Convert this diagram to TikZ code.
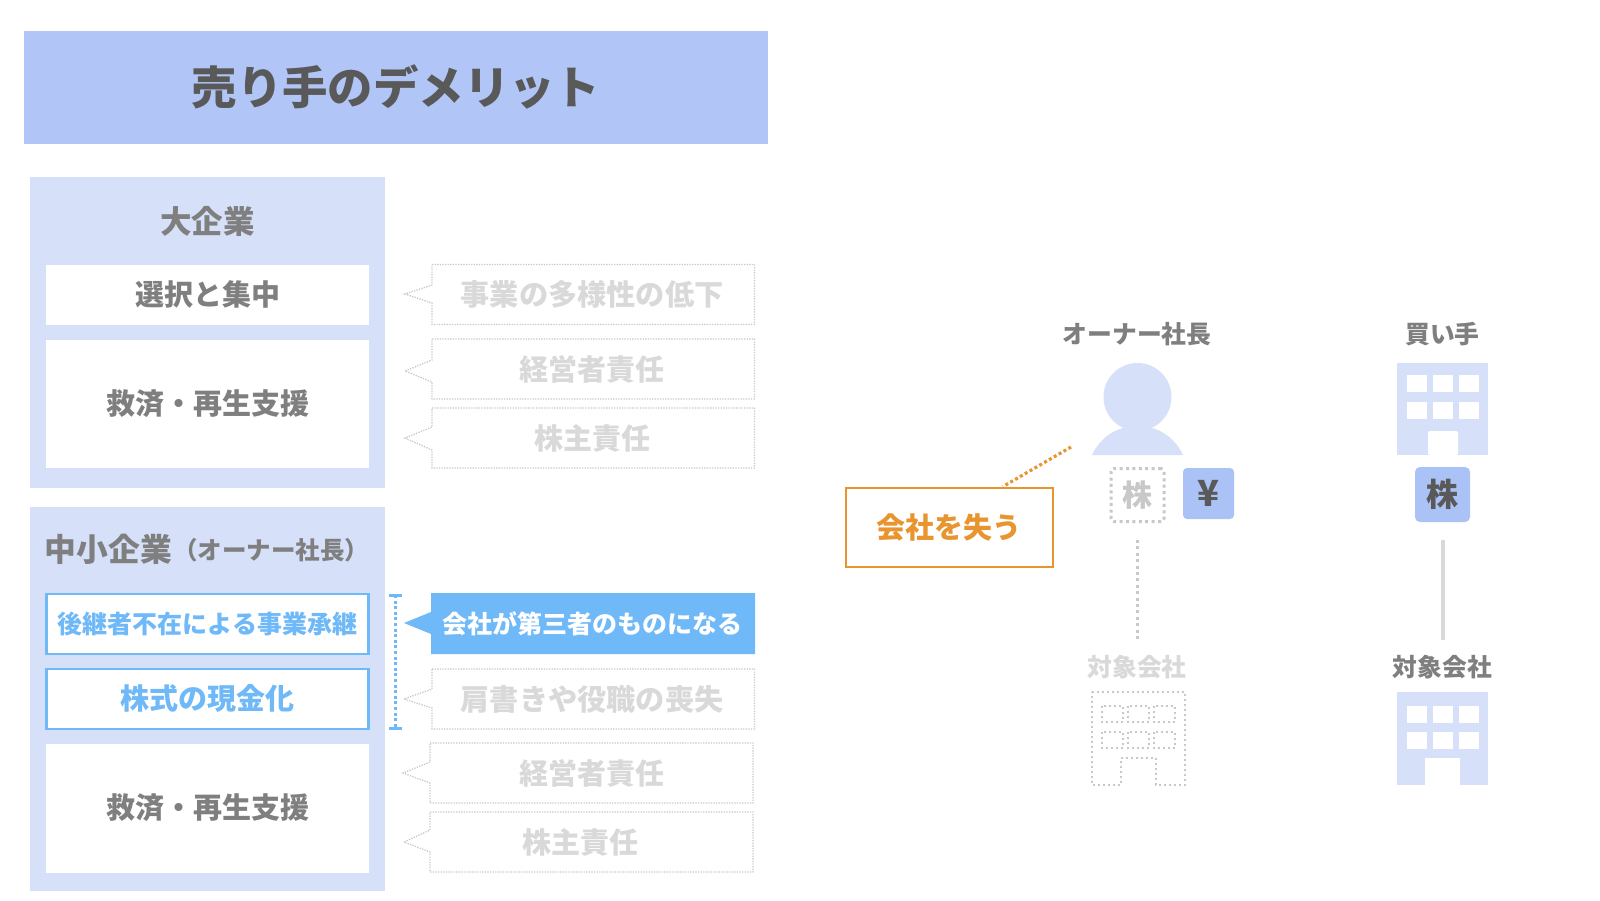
\documentclass[tikz,border=0pt]{standalone}
\usepackage{fontspec}
\setmainfont{Noto Sans CJK JP}
\definecolor{titlefill}{HTML}{B1C6F6}
\definecolor{panelfill}{HTML}{D6E0F9}
\definecolor{chipfill}{HTML}{ABC2F6}
\definecolor{midgrey}{HTML}{7F7F7F}
\definecolor{darkgrey}{HTML}{595959}
\definecolor{lightgrey}{HTML}{D9D9D9}
\definecolor{dotgrey}{HTML}{C8C8C8}
\definecolor{skyblue}{HTML}{6FB9F8}
\definecolor{orangetxt}{HTML}{E8952F}
\newcommand{\fsz}[1]{\fontsize{#1}{#1}\selectfont\bfseries}
\tikzset{
  x=1pt,y=-1pt,
  txt/.style={inner sep=0pt,text=midgrey},
  whitebox/.style={fill=white,draw=none,inner sep=0pt,text=midgrey},
  bluebox/.style={fill=white,draw=skyblue,line width=2.2pt,inner sep=0pt,text=skyblue},
  finedots/.style={draw=dotgrey,line width=1.3pt,dash pattern=on 1.3pt off 1.3pt},
  bigdots/.style={draw=dotgrey,line width=3pt,dash pattern=on 3pt off 3.4pt},
  icondots/.style={draw=dotgrey,line width=2pt,dash pattern=on 2pt off 3pt},
  bldg/.style={fill=panelfill,draw=none},
}
% xl xr yt yb tipx tipy n1 n2
\newcommand{\calloutpath}[9][finedots]{%
  \draw[#1] (#2,#4) -- (#3,#4) -- (#3,#5) -- (#2,#5) -- (#2,#9) -- (#6,#7) -- (#2,#8) -- cycle;}
\newcommand{\windowsat}[4][white]{%
  \foreach \wx in {1407,1433,1459}{
    \fill[#1] (\wx+#2,#3) rectangle ++(19.5,16.5);
    \fill[#1] (\wx+#2,#4) rectangle ++(19.5,16.5);}}
\begin{document}
\begin{tikzpicture}
\useasboundingbox (0,0) rectangle (1600,900);
\fill[white] (0,0) rectangle (1600,900);

% title
\node[fill=titlefill,minimum width=744pt,minimum height=113pt,inner sep=0pt,text=darkgrey,font=\fsz{45.4}] (title) at (396,87) {売り手のデメリット};

% panels
\node[fill=panelfill,minimum width=355pt,minimum height=311pt,inner sep=0pt] (panelA) at (207.5,332.5) {};
\node[fill=panelfill,minimum width=355pt,minimum height=384pt,inner sep=0pt] (panelB) at (207.5,699) {};

\node[txt,font=\fsz{31.5}] (large) at (207.5,221) {大企業};
\node[whitebox,minimum width=323pt,minimum height=60pt,font=\fsz{29}] (a1) at (207.5,294.5) {選択と集中};
\node[whitebox,minimum width=323pt,minimum height=128pt,font=\fsz{29}] (a2) at (207.5,404) {救済・再生支援};

\node[txt,font=\fsz{31.8},anchor=west] (small) at (44.5,549) {中小企業};
\node[txt,font=\fsz{24.5},anchor=west] (smallsub) at (173,550.5) {（オーナー社長）};
\node[bluebox,minimum width=322pt,minimum height=59.5pt,font=\fsz{25}] (b1) at (207.5,624) {後継者不在による事業承継};
\node[bluebox,minimum width=322pt,minimum height=59.5pt,font=\fsz{29}] (b2) at (207.5,699) {株式の現金化};
\node[whitebox,minimum width=323pt,minimum height=129pt,font=\fsz{29}] (b3) at (207.5,808) {救済・再生支援};

% callouts
\calloutpath{432}{754.5}{264.5}{324.5}{405}{294}{285}{303}
\calloutpath{432}{754.5}{339}{399}{405}{371}{360}{382}
\calloutpath{432}{754.5}{408}{468}{405}{438}{427}{450}
\fill[skyblue] (431,593) -- (755,593) -- (755,654) -- (431,654) -- (431,634) -- (404,623) -- (431,612) -- cycle;
\calloutpath{432}{754.5}{669}{729}{404}{699}{689}{708}
\calloutpath{430}{753}{743}{803}{403}{773}{762}{783}
\calloutpath{430}{753}{812}{872}{404}{842}{830}{852}

\node[txt,text=lightgrey,font=\fsz{29.2}] (c1) at (592,294.5) {事業の多様性の低下};
\node[txt,text=lightgrey,font=\fsz{29}] (c2) at (592,369.5) {経営者責任};
\node[txt,text=lightgrey,font=\fsz{29}] (c3) at (592,438.5) {株主責任};
\node[txt,text=white,font=\fsz{25}] (c4) at (592,623.5) {会社が第三者のものになる};
\node[txt,text=lightgrey,font=\fsz{29.2}] (c5) at (592,699) {肩書きや役職の喪失};
\node[txt,text=lightgrey,font=\fsz{29}] (c6) at (592,773) {経営者責任};
\node[txt,text=lightgrey,font=\fsz{29}] (c7) at (580,842) {株主責任};

% bracket
\coordinate (brT) at (395.5,595);
\coordinate (brB) at (395.5,728);
\draw[skyblue,line width=3.4pt,dash pattern=on 3pt off 2.6pt] (brT) -- (brB);
\draw[skyblue,line width=3pt] ([xshift=-6.5pt]brT) -- ([xshift=6.5pt]brT);
\draw[skyblue,line width=3pt] ([xshift=-6.5pt]brB) -- ([xshift=6.5pt]brB);

% owner
\node[txt,font=\fsz{24.8}] (ownerlbl) at (1137,334) {オーナー社長};
\fill[panelfill] (1137.5,397) circle (34);
\fill[panelfill] (1092,455) .. controls (1101,436) and (1118,426) .. (1137.5,426) .. controls (1157,426) and (1174,436) .. (1183,455) -- cycle;
\coordinate (ownerlink) at (1071,447);

\node[draw=orangetxt,line width=2pt,fill=white,minimum width=207pt,minimum height=79pt,inner sep=0pt,text=orangetxt,font=\fsz{29}] (lose) at (949,527) {会社を失う};
\draw[orangetxt,line width=3.2pt,dash pattern=on 3pt off 2.6pt] (ownerlink) -- (lose.north -| 1003,486);

\node[bigdots,rounded corners=3pt,minimum width=53pt,minimum height=53pt,inner sep=0pt,text=dotgrey,font=\fsz{30}] (stockA) at (1137.5,495) {株};
\node[fill=chipfill,rounded corners=4pt,minimum width=51pt,minimum height=51pt,inner sep=0pt,text=darkgrey,font=\fsz{36}] (yen) at (1208.5,493.5) {¥};

\coordinate (lineAt) at (1137.5,540);
\coordinate (lineAb) at (1137.5,640);
\draw[bigdots] (lineAt) -- (lineAb);

\node[txt,text=lightgrey,font=\fsz{24.8}] (targetA) at (1137,667) {対象会社};
\draw[icondots] (1092,692) -- (1185,692) -- (1185,785) -- (1156,785) -- (1156,758) -- (1121,758) -- (1121,785) -- (1092,785) -- cycle;
\foreach \wx in {1102,1128,1154}{
  \draw[icondots] (\wx,706) rectangle ++(21,16);
  \draw[icondots] (\wx,732) rectangle ++(21,16);}

% buyer
\node[txt,font=\fsz{24.8}] (buyerlbl) at (1442.5,334) {買い手};
\fill[bldg] (1397,363) rectangle (1488,455);
\windowsat{0}{375}{402}
\fill[white,rounded corners=2pt] (1428,455) -- (1428,431) -- (1458,431) -- (1458,455) -- cycle;

\node[fill=chipfill,rounded corners=5pt,minimum width=55pt,minimum height=55pt,inner sep=0pt,text=darkgrey,font=\fsz{32}] (stockB) at (1442.5,494.5) {株};
\coordinate (lineBt) at (1443,540);
\coordinate (lineBb) at (1443,640);
\draw[draw=lightgrey,line width=3.2pt] (lineBt) -- (lineBb);

\node[txt,font=\fsz{24.8}] (targetB) at (1442.5,667) {対象会社};
\fill[bldg] (1397,692) rectangle (1488,785);
\windowsat{0}{706}{732}
\fill[white] (1425,785) -- (1425,758) -- (1460,758) -- (1460,785) -- cycle;
\end{tikzpicture}
\end{document}
